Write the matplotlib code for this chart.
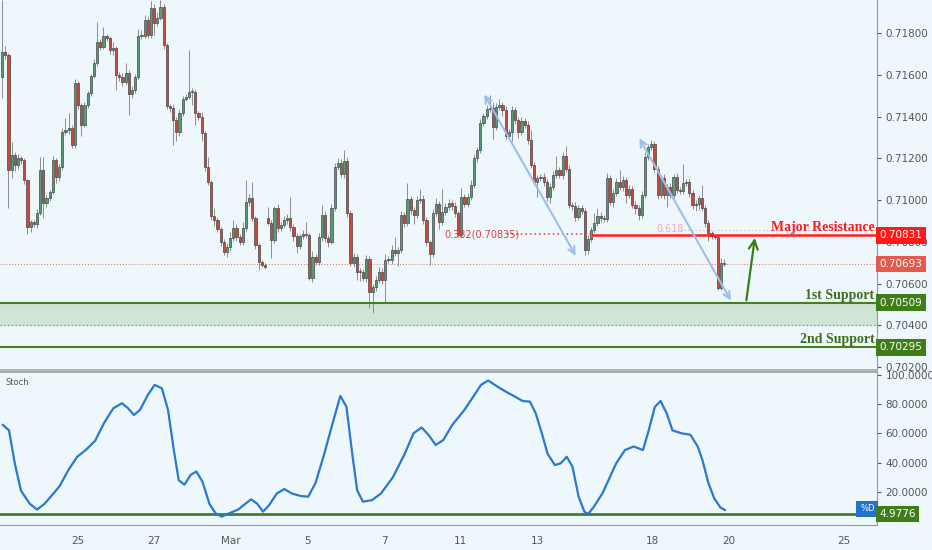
import numpy as np
import matplotlib.pyplot as plt

# AUDUSD-style 2h candles, Feb 21 - Mar 20 (x in trading days from Feb 21)
closes = [
    0.71709, 0.71695, 0.71144, 0.71216, 0.71168, 0.71201, 0.71192, 0.71096, 0.70871, 0.70895,
    0.70885, 0.70938, 0.71144, 0.70986, 0.71010, 0.71038, 0.71192, 0.71110, 0.71158, 0.71326,
    0.71335, 0.71345, 0.71264, 0.71561, 0.71455, 0.71359, 0.71455, 0.71513, 0.71594, 0.71656,
    0.71757, 0.71733, 0.71786, 0.71776, 0.71719, 0.71728, 0.71599, 0.71589, 0.71565, 0.71608,
    0.71508, 0.71527, 0.71589, 0.71786, 0.71786, 0.71862, 0.71790, 0.71920, 0.71848, 0.71872,
    0.71925, 0.71743, 0.71450, 0.71441, 0.71383, 0.71326, 0.71417, 0.71484, 0.71493, 0.71517,
    0.71517, 0.71417, 0.71398, 0.71321, 0.71158, 0.71086, 0.70923, 0.70904, 0.70861, 0.70799,
    0.70751, 0.70775, 0.70818, 0.70866, 0.70823, 0.70799, 0.70866,
    0.70990, 0.71010, 0.70914, 0.70785, 0.70703, 0.70689, 0.70679, 0.70890, 0.70808, 0.70962,
    0.70866, 0.70880, 0.70904, 0.70914, 0.70871, 0.70828, 0.70780, 0.70828, 0.70837, 0.70832,
    0.70626, 0.70727, 0.70703, 0.70823, 0.70928, 0.70818, 0.70799, 0.70962, 0.71158, 0.71177,
    0.71125, 0.71187, 0.70938, 0.70698, 0.70727, 0.70655, 0.70655, 0.70626, 0.70717, 0.70559,
    0.70583, 0.70617, 0.70655, 0.70617, 0.70713, 0.70713, 0.70761, 0.70746, 0.70761, 0.70928,
    0.70890, 0.71005, 0.70952, 0.70928, 0.71000, 0.71005, 0.70904, 0.70799, 0.70741, 0.70938,
    0.70981, 0.70895, 0.70943, 0.70967, 0.70986, 0.70971, 0.70938, 0.70832, 0.71014, 0.70981,
    0.71014, 0.71072,
    0.71201, 0.71240, 0.71369, 0.71402, 0.71436, 0.71441, 0.71350, 0.71446, 0.71455, 0.71431,
    0.71307, 0.71326, 0.71431, 0.71383, 0.71326, 0.71378, 0.71359, 0.71287, 0.71168, 0.71086,
    0.71105, 0.71110, 0.71086, 0.71014, 0.71062, 0.71120, 0.71144, 0.71120, 0.71211, 0.71149,
    0.70976, 0.70971, 0.70919, 0.70962, 0.70947, 0.70761, 0.70813, 0.70856, 0.70890, 0.70923,
    0.70914, 0.70909, 0.71105, 0.70990, 0.71034, 0.71086, 0.71062, 0.71096, 0.71024, 0.71053,
    0.70976, 0.70962, 0.70928, 0.71024, 0.71206, 0.71254, 0.71268, 0.71149, 0.71024, 0.71105,
    0.71024, 0.71062, 0.71024, 0.71110, 0.71048, 0.71043, 0.71082, 0.71086, 0.71034, 0.70976,
    0.70981, 0.71010, 0.70962, 0.70890, 0.70842, 0.70828, 0.70823, 0.70578, 0.70698, 0.70693,
]
first_open = 0.71589
gap_bar = 84          # Monday open after the weekend
gap_open = 0.70914

# wick lengths beyond the body, in points (0.00001)
wick_hi = [
    250, 30, 10, 60, 15, 20, 10, 10, 5, 10, 10, 20, 60, 60, 15, 10, 20, 10, 15, 20,
    60, 70, 15, 20, 10, 10, 15, 10, 10, 20, 95, 15, 45, 10, 10, 30, 10, 15, 20, 50,
    15, 20, 15, 35, 30, 25, 20, 35, 20, 30, 35, 15, 10, 10, 20, 15, 20, 15, 15, 200,
    20, 15, 10, 25, 10, 50, 10, 40, 15, 10, 15, 20, 30, 40, 20, 15, 30,
    105, 20, 75, 10, 10, 10, 10, 55, 15, 10, 20, 15, 20, 20, 100, 15, 15, 10, 20, 60,
    10, 30, 15, 20, 50, 20, 15, 20, 20, 25, 20, 55, 20, 15, 20, 15, 20, 15, 20, 15,
    15, 20, 25, 20, 30, 20, 25, 60, 15, 20, 15, 75, 15, 15, 20, 50, 20, 15, 10, 20,
    30, 15, 110, 20, 20, 15, 20, 10, 45, 15, 20, 25,
    20, 15, 20, 15, 20, 60, 30, 20, 30, 15, 20, 15, 20, 15, 15, 20, 15, 20, 50, 15,
    15, 15, 20, 15, 20, 20, 65, 15, 20, 50, 20, 15, 20, 15, 15, 15, 20, 15, 50, 40,
    20, 15, 25, 15, 20, 20, 60, 20, 15, 20, 15, 20, 15, 20, 25, 15, 20, 15, 15, 15,
    20, 15, 20, 15, 20, 15, 90, 15, 15, 15, 20, 15, 60, 15, 15, 10, 10, 10, 25, 20,
]
wick_lo = [
    100, 20, 180, 40, 30, 20, 20, 20, 35, 25, 15, 20, 10, 70, 20, 15, 10, 30, 20, 15,
    15, 20, 15, 15, 20, 50, 10, 15, 15, 10, 15, 15, 10, 15, 20, 25, 70, 20, 20, 15,
    100, 20, 15, 10, 15, 10, 15, 15, 60, 15, 10, 20, 15, 20, 120, 45, 20, 15, 10, 10,
    60, 60, 15, 40, 20, 15, 20, 30, 15, 20, 15, 25, 20, 15, 20, 15, 15,
    15, 20, 15, 20, 40, 10, 10, 10, 85, 15, 20, 15, 15, 20, 20, 25, 35, 15, 15, 15,
    10, 20, 15, 15, 20, 20, 25, 10, 15, 15, 15, 20, 20, 15, 20, 40, 45, 15, 20, 75,
    100, 20, 15, 20, 110, 15, 20, 15, 60, 15, 20, 15, 20, 45, 15, 15, 20, 20, 50, 15,
    15, 35, 15, 15, 15, 20, 20, 10, 10, 15, 15, 15,
    15, 20, 15, 15, 15, 15, 60, 15, 15, 30, 15, 20, 45, 20, 30, 15, 15, 20, 15, 15,
    70, 15, 20, 20, 30, 15, 15, 15, 20, 15, 15, 20, 20, 15, 15, 25, 20, 15, 15, 15,
    20, 15, 15, 15, 25, 15, 15, 20, 40, 15, 15, 30, 25, 15, 15, 15, 15, 15, 20, 15,
    20, 55, 15, 15, 15, 15, 15, 15, 20, 20, 30, 30, 15, 20, 40, 15, 10, 10, 10, 10,
]

# stochastic %D line (day, value)
stoch_day = [0.05, 0.21, 0.36, 0.52, 0.75, 0.94, 1.14, 1.37, 1.53, 1.76, 1.99, 2.23, 2.46, 2.69,
             2.93, 3.16, 3.32, 3.47, 3.63, 3.83, 4.01, 4.20, 4.36, 4.51, 4.64, 4.79, 4.95, 5.10,
             5.26, 5.44, 5.60, 5.76, 5.96, 6.19, 6.38, 6.53, 6.69, 6.84, 7.00, 7.20, 7.40, 7.59,
             7.82, 8.02, 8.21, 8.44, 8.68, 8.86, 9.02, 9.17, 9.30, 9.45, 9.69, 9.92, 10.23, 10.54,
             10.77, 10.98, 11.16, 11.35, 11.55, 11.78, 12.10, 12.33, 12.53, 12.72, 12.95, 13.18,
             13.42, 13.62, 13.81, 13.96, 14.12, 14.27, 14.46, 14.61, 14.77, 14.92, 15.08, 15.23,
             15.33, 15.48, 15.70, 15.86, 16.06, 16.29, 16.52, 16.76, 16.91, 17.07, 17.22, 17.38,
             17.53, 17.77, 18.00, 18.19, 18.31, 18.47, 18.62, 18.78, 18.90]
stoch_val = [65.7, 62, 39.5, 21, 12, 8, 12, 19, 24, 35, 44, 49, 55, 67,
             77, 80.5, 77, 72.5, 76, 86, 93, 90.7, 76, 49, 28, 25, 31.6, 34,
             27, 12, 5.5, 3.2, 5.5, 8, 12, 15, 12, 6.6, 11, 19, 22, 19,
             17.3, 16.8, 26, 46, 69, 85.5, 78, 46, 21, 13.4, 14.5, 19, 30, 46,
             60, 64, 59, 52, 55.5, 65.7, 76, 85, 93, 96, 92, 88.4,
             85, 82, 81.6, 73.6, 60, 46, 38.4, 39.5, 44, 37.3, 16.8, 6.6,
             5, 10, 19, 28, 39.5, 48.6, 51, 48.6, 62, 78, 82, 73.6,
             62, 60, 59, 51, 42, 26, 15.7, 9.5, 7.7]
stoch_floor = 4.9776

tick_days = [2, 4, 6, 8, 10, 12, 14, 17, 19, 22]
tick_labels = ['25', '27', 'Mar', '5', '7', '11', '13', '18', '20', '25']

major_res = 0.70831
last_price = 0.70693
support1 = 0.70509
support1_low = 0.70400
support2 = 0.70295
fib382 = 0.70835
fib618 = 0.70857

# drawing helpers (day, price)
arrow_down1 = [(12.58, 0.71517), (15.04, 0.70722)]
arrow_down2 = [(16.63, 0.71307), (19.09, 0.70507)]
arrow_up = [(19.45, 0.70507), (19.69, 0.70832)]

bg = '#eef8fc'
up_col = '#559c78'
dn_col = '#c94a3b'
grey = '#555555'
green = '#447f24'
txt_green = '#3d6e1c'

closes = np.array(closes)
opens = np.r_[first_open, closes[:-1]]
opens[gap_bar] = gap_open
highs = np.maximum(opens, closes) + np.array(wick_hi) * 1e-5
lows = np.minimum(opens, closes) - np.array(wick_lo) * 1e-5
t = np.linspace(0.03, 18.88, len(closes))

fig = plt.figure(figsize=(9.32, 5.5), dpi=100, facecolor=bg)
ax = fig.add_axes([0, 1 - 370 / 550, 877 / 932, 370 / 550], facecolor=bg)
ax2 = fig.add_axes([0, 25 / 550, 877 / 932, 153 / 550], facecolor=bg)

xlim = (-0.026, 22.87)

# candles
cols = np.where(closes >= opens, up_col, dn_col)
ax.vlines(t, lows, highs, color='#8c8c8c', lw=0.7, zorder=2)
body = np.abs(closes - opens)
body = np.maximum(body, 0.00003)
ax.bar(t, body, bottom=np.minimum(opens, closes), width=0.058, color=cols,
       edgecolor='#3a3a3a', linewidth=0.45, zorder=3)

# support zone and levels
ax.axhspan(support1_low, support1, color='#cfe6d6', zorder=1)
ax.axhline(support1_low, color='#8a8a8a', lw=0.9, ls=(0, (1, 2)), zorder=1.5)
ax.axhline(support1, color=green, lw=1.5, zorder=4)
ax.axhline(support2, color=green, lw=1.5, zorder=4)
ax.axhline(last_price, color='#e06a60', lw=0.7, ls=(0, (1, 2)), zorder=1.5)

# fib levels
ax.plot([13.2, 15.45], [fib382, fib382], color='#ee3333', lw=1.1, ls=(0, (1, 2)), zorder=4)
ax.plot([15.45, xlim[1]], [major_res, major_res], color='#ff2020', lw=1.8, zorder=4)
ax.text(11.58, fib382, '0.382(0.70835)', color='#e23b3b', fontsize=7, va='center', zorder=5)
ax.plot([17.73, xlim[1]], [fib618, fib618], color='#c4c4cc', lw=0.9, ls=(0, (1, 2)), zorder=1.5)
ax.text(17.1, fib618 + 0.00003, '0.618', color='#f2a8b8', fontsize=7, va='center', zorder=5)

# arrows
for a in (arrow_down1, arrow_down2):
    ax.annotate('', xy=a[1], xytext=a[0],
                arrowprops=dict(arrowstyle='<->', color='#9dbdec', lw=1.5, mutation_scale=12),
                zorder=5)
ax.annotate('', xy=arrow_up[1], xytext=arrow_up[0],
            arrowprops=dict(arrowstyle='->', color='#3a7d1a', lw=1.6, mutation_scale=16), zorder=6)

serif = dict(family='Liberation Serif', weight='bold', fontsize=10)
ax.text(22.8, major_res + 0.00004, 'Major Resistance', color='#ff1a1a', ha='right', va='bottom', **serif)
ax.text(22.8, support1 + 0.00004, '1st Support', color=txt_green, ha='right', va='bottom', **serif)
ax.text(22.8, support2 + 0.00004, '2nd Support', color=txt_green, ha='right', va='bottom', **serif)

ax.set_xlim(*xlim)
ax.set_ylim(0.70186, 0.71958)
ax.yaxis.tick_right()
yt = np.arange(0.702, 0.7181, 0.002)
ax.set_yticks(yt)
ax.set_yticklabels(['%.5f' % v for v in yt])
ax.tick_params(axis='y', colors=grey, labelsize=7.5, length=3, pad=3, labelcolor=grey)
ax.set_xticks([])
for s in ('left', 'top'):
    ax.spines[s].set_visible(False)
ax.spines['right'].set_color('#999999')
ax.spines['bottom'].set_color('#aaaaaa')
ax.spines['bottom'].set_linewidth(1.2)

ytr = ax.get_yaxis_transform()
box = dict(boxstyle='square,pad=0.32', ec='none')
for val, fc in ((major_res, '#ff1a1a'), (last_price, '#e35b4e'), (support1, '#3f7d18'), (support2, '#3f7d18')):
    ax.text(1.003, val, '%.5f' % val, transform=ytr, color='white', fontsize=7.5, ha='left',
            va='center', bbox=dict(box, fc=fc), clip_on=False, zorder=10)

# stochastic panel
ax2.plot(stoch_day, stoch_val, color='#2a78cf', lw=1.6, zorder=3)
ax2.axhline(stoch_floor, color=green, lw=2, zorder=2)
ax2.set_xlim(*xlim)
ax2.set_ylim(-2.5, 101.8)
ax2.yaxis.tick_right()
st = [20, 40, 60, 80, 100]
ax2.set_yticks(st)
ax2.set_yticklabels(['%.4f' % v for v in st])
ax2.tick_params(axis='y', colors=grey, labelsize=7.5, length=3, pad=3, labelcolor=grey)
ax2.set_xticks(tick_days)
ax2.set_xticklabels(tick_labels)
ax2.tick_params(axis='x', colors=grey, labelsize=7.5, length=0, pad=8, labelcolor=grey)
ax2.spines['left'].set_visible(False)
for s in ('top', 'bottom', 'right'):
    ax2.spines[s].set_color('#999999')
ax2.spines['top'].set_linewidth(1.2)
ax2.text(0.006, 0.93, 'Stoch', transform=ax2.transAxes, fontsize=6, color=grey, va='center')
ax2.text(0.989, 8.5, '%D', transform=ax2.get_yaxis_transform(), color='white', fontsize=6,
         ha='center', va='center', bbox=dict(boxstyle='square,pad=0.45', fc='#2372cc', ec='none'),
         zorder=10)
ax2.text(1.003, stoch_floor, '4.9776', transform=ax2.get_yaxis_transform(), color='white',
         fontsize=7.5, ha='left', va='center', bbox=dict(box, fc='#3f7d18'), clip_on=False, zorder=10)

fig.savefig('out.png', dpi=100, facecolor=bg)
